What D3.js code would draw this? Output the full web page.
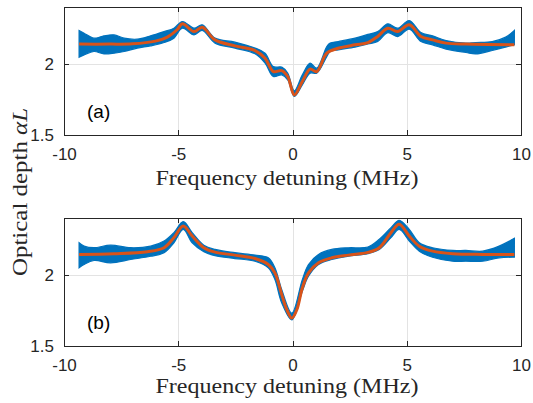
<!DOCTYPE html>
<html lang="en">
<head>
<meta charset="utf-8">
<title>Optical depth</title>
<style>
  body { margin: 0; background: #fff; }
  .tick text { font: 17px "Liberation Sans", Arial, sans-serif; fill: #262626; }
  .axis path, .axis line { stroke: #262626; shape-rendering: crispEdges; }
  .grid line { stroke: #e3e3e3; shape-rendering: crispEdges; }
  .grid path { display: none; }
  .lab { font-family: "Liberation Serif", "Times New Roman", serif; fill: #262626; }
</style>
</head>
<body>
<div id="chart"></div>
<script src="https://d3js.org/d3.v7.min.js"></script>
<script>
  const width = 533, height = 403;

  const xTicks = [-10, -5, 0, 5, 10];
  const yTicks = [1.5, 2];

  // panel (a): fitted curve
  const fitFreqA = [-9.34, -8.0, -7.0, -6.0, -5.5, -5.05, -4.82, -4.31, -3.95, -3.39, -2.52, -1.64, -1.20, -0.84, -0.47, -0.21, 0.08, 0.43, 0.77, 1.06, 1.50, 2.00, 2.74, 3.30, 3.73, 4.17, 4.60, 5.11, 5.62, 6.13, 6.72, 7.59, 9.71];
  const fitA = [2.139, 2.139, 2.141, 2.160, 2.186, 2.240, 2.282, 2.227, 2.258, 2.169, 2.127, 2.094, 2.040, 1.946, 1.953, 1.911, 1.782, 1.876, 1.963, 1.946, 2.075, 2.110, 2.134, 2.150, 2.193, 2.251, 2.228, 2.275, 2.193, 2.169, 2.146, 2.139, 2.134];

  // panel (a): measured data, upper/lower envelope of the noisy trace
  const dataFreqA = [-9.34, -9.12, -8.69, -8.25, -7.81, -7.37, -6.79, -6.21, -5.62, -5.19, -4.82, -4.31, -3.95, -3.39, -2.52, -1.64, -1.20, -0.84, -0.47, -0.21, 0.08, 0.43, 0.77, 1.06, 1.50, 1.65, 2.00, 2.74, 3.30, 3.73, 4.17, 4.60, 5.11, 5.62, 6.13, 6.72, 7.59, 8.02, 8.74, 9.33, 9.71];
  const dataHighA = [2.235, 2.216, 2.181, 2.197, 2.204, 2.181, 2.174, 2.197, 2.227, 2.251, 2.298, 2.251, 2.275, 2.181, 2.153, 2.111, 2.075, 1.981, 1.977, 1.935, 1.811, 1.923, 2.005, 1.970, 2.122, 2.146, 2.157, 2.181, 2.207, 2.227, 2.282, 2.251, 2.305, 2.220, 2.197, 2.164, 2.146, 2.150, 2.157, 2.188, 2.235];
  const dataLowA = [2.047, 2.063, 2.087, 2.070, 2.075, 2.087, 2.111, 2.127, 2.150, 2.181, 2.251, 2.204, 2.235, 2.146, 2.111, 2.071, 2.005, 1.911, 1.923, 1.888, 1.771, 1.852, 1.935, 1.935, 2.051, 2.087, 2.099, 2.118, 2.140, 2.157, 2.220, 2.192, 2.244, 2.157, 2.134, 2.104, 2.080, 2.070, 2.094, 2.118, 2.134];

  // panel (b): fitted curve
  const fitFreqB = [-9.34, -7.81, -6.35, -5.62, -5.19, -4.78, -4.39, -3.88, -3.39, -2.52, -1.64, -1.06, -0.77, -0.47, -0.25, -0.03, 0.19, 0.43, 0.70, 1.14, 1.72, 2.45, 3.30, 3.80, 4.31, 4.67, 5.11, 5.55, 6.13, 7.01, 8.32, 9.71];
  const fitB = [2.144, 2.149, 2.163, 2.191, 2.262, 2.344, 2.273, 2.191, 2.160, 2.139, 2.115, 2.073, 2.014, 1.861, 1.755, 1.696, 1.755, 1.908, 2.014, 2.085, 2.120, 2.139, 2.158, 2.191, 2.297, 2.356, 2.273, 2.202, 2.167, 2.149, 2.144, 2.144];

  // panel (b): measured data envelope
  const dataFreqB = [-9.34, -9.12, -8.69, -7.96, -7.08, -6.21, -5.62, -5.19, -4.78, -4.39, -3.88, -3.39, -2.52, -1.64, -1.06, -0.77, -0.47, -0.03, 0.43, 0.70, 1.14, 1.72, 2.45, 3.30, 3.80, 4.31, 4.67, 5.11, 5.55, 6.13, 7.01, 7.59, 8.32, 9.04, 9.71];
  const dataHighB = [2.226, 2.202, 2.191, 2.209, 2.191, 2.202, 2.238, 2.297, 2.375, 2.297, 2.209, 2.179, 2.156, 2.139, 2.120, 2.050, 1.896, 1.731, 1.967, 2.073, 2.144, 2.179, 2.191, 2.196, 2.250, 2.332, 2.384, 2.320, 2.226, 2.191, 2.172, 2.172, 2.167, 2.202, 2.257];
  const dataLowB = [2.050, 2.073, 2.101, 2.085, 2.108, 2.131, 2.156, 2.226, 2.320, 2.226, 2.163, 2.135, 2.115, 2.096, 2.050, 1.967, 1.802, 1.684, 1.884, 1.990, 2.073, 2.108, 2.131, 2.150, 2.179, 2.262, 2.320, 2.238, 2.167, 2.124, 2.096, 2.096, 2.096, 2.120, 2.124];

  const svg = d3.select("#chart")
    .append("svg")
    .attr("width", width)
    .attr("height", height);

  const x = d3.scaleLinear().domain([-10, 10]).range([64, 521]);

  const panels = [
    { tag: "(a)", top: 7, bottom: 135, fq: fitFreqA, fit: fitA, dq: dataFreqA, hi: dataHighA, lo: dataLowA, xlab: 185 },
    { tag: "(b)", top: 218, bottom: 346, fq: fitFreqB, fit: fitB, dq: dataFreqB, hi: dataHighB, lo: dataLowB, xlab: 393 }
  ];

  panels.forEach(p => {
    const y = d3.scaleLinear().domain([1.5, 2.4]).range([p.bottom, p.top]);
    const g = svg.append("g");

    // grid
    g.append("g").attr("class", "grid")
      .attr("transform", `translate(0,${p.bottom})`)
      .call(d3.axisBottom(x).tickValues(xTicks).tickSize(-(p.bottom - p.top)).tickFormat(""));
    g.append("g").attr("class", "grid")
      .attr("transform", `translate(${x.range()[0]},0)`)
      .call(d3.axisLeft(y).tickValues(yTicks).tickSize(-(x.range()[1] - x.range()[0])).tickFormat(""));

    // measured trace
    const band = d3.area()
      .x((d, i) => x(p.dq[i]))
      .y0((d, i) => y(p.lo[i]))
      .y1((d, i) => y(p.hi[i]))
      .curve(d3.curveCatmullRom.alpha(0.5));
    g.append("path")
      .datum(p.dq)
      .attr("d", band)
      .attr("fill", "#0072BD")
      .attr("stroke", "#0072BD")
      .attr("stroke-width", 1.2);

    // fit
    const line = d3.line()
      .x((d, i) => x(p.fq[i]))
      .y((d, i) => y(p.fit[i]))
      .curve(d3.curveCatmullRom.alpha(0.5));
    g.append("path")
      .datum(p.fq)
      .attr("d", line)
      .attr("fill", "none")
      .attr("stroke", "#D95319")
      .attr("stroke-width", 3)
      .attr("stroke-linejoin", "round");

    // axes with inward ticks, box on all sides
    g.append("g").attr("class", "axis")
      .attr("transform", `translate(0,${p.bottom})`)
      .call(d3.axisBottom(x).tickValues(xTicks).tickSizeInner(-5).tickSizeOuter(0).tickPadding(13).tickFormat(d => String(d)));
    g.append("g").attr("class", "axis")
      .attr("transform", `translate(0,${p.top})`)
      .call(d3.axisTop(x).tickValues(xTicks).tickSizeInner(-5).tickSizeOuter(0).tickFormat(""));
    g.append("g").attr("class", "axis")
      .attr("transform", `translate(${x.range()[0]},0)`)
      .call(d3.axisLeft(y).tickValues(yTicks).tickSizeInner(-5).tickSizeOuter(0).tickPadding(10).tickFormat(d => String(d)));
    g.append("g").attr("class", "axis")
      .attr("transform", `translate(${x.range()[1]},0)`)
      .call(d3.axisRight(y).tickValues(yTicks).tickSizeInner(-5).tickSizeOuter(0).tickFormat(""));

    g.append("text")
      .attr("x", 87).attr("y", p.bottom - 17)
      .style("font", '19px "Liberation Sans", Arial, sans-serif')
      .attr("fill", "#000")
      .text(p.tag);

    g.append("text")
      .attr("class", "lab")
      .attr("x", 287).attr("y", p.xlab)
      .attr("text-anchor", "middle")
      .attr("font-size", 21)
      .attr("textLength", 263)
      .attr("lengthAdjust", "spacingAndGlyphs")
      .text("Frequency detuning (MHz)");
  });

  const yl = svg.append("text")
    .attr("class", "lab")
    .attr("transform", "translate(27,192) rotate(-90)")
    .attr("text-anchor", "middle")
    .attr("font-size", 21)
    .attr("textLength", 168)
    .attr("lengthAdjust", "spacingAndGlyphs");
  yl.append("tspan").text("Optical depth ");
  yl.append("tspan").attr("font-style", "italic").text("αL");
</script>
</body>
</html>
